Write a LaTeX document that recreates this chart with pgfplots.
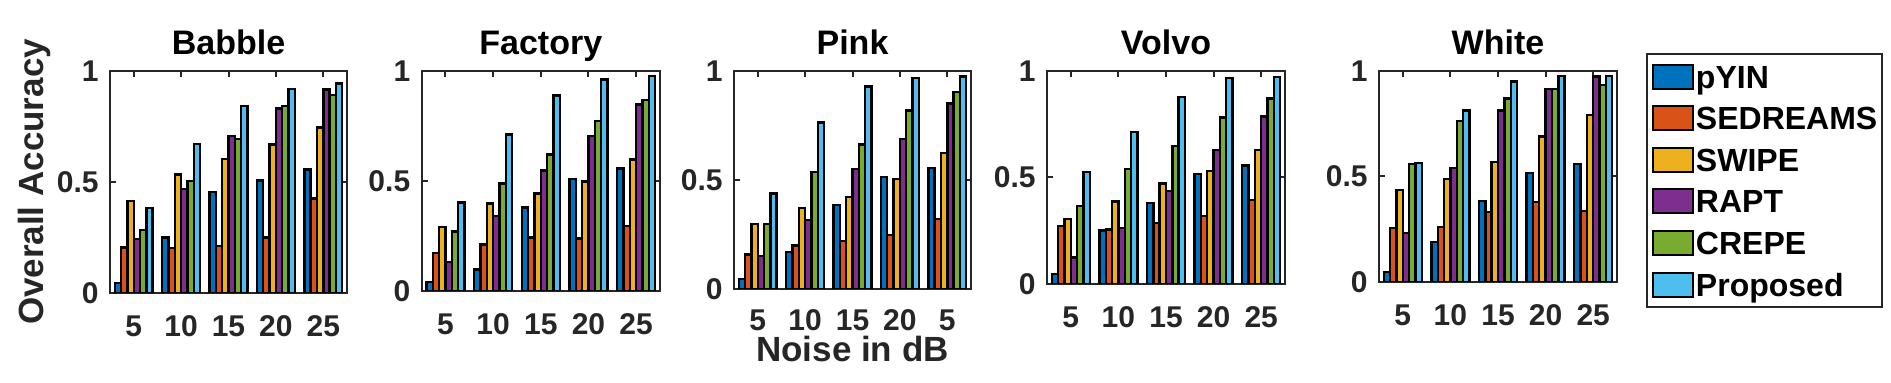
\documentclass[border=0pt]{standalone}
\usepackage{fontspec}
\setmainfont{Liberation Sans}
\usepackage{pgfplots}
\usepackage{pgfplotstable}
\pgfplotsset{compat=1.18}
\definecolor{axgray}{RGB}{38,38,38}
\definecolor{cA}{rgb}{0,0.447,0.741}
\definecolor{cB}{rgb}{0.850,0.325,0.098}
\definecolor{cC}{rgb}{0.929,0.694,0.125}
\definecolor{cD}{rgb}{0.494,0.184,0.556}
\definecolor{cE}{rgb}{0.466,0.674,0.188}
\definecolor{cF}{rgb}{0.301,0.745,0.933}

\pgfplotstableread{
g pyin sed swipe rapt crepe prop
1 0.045 0.205 0.415 0.244 0.285 0.384
2 0.250 0.202 0.534 0.469 0.505 0.672
3 0.456 0.213 0.604 0.708 0.693 0.843
4 0.507 0.250 0.669 0.831 0.843 0.919
5 0.556 0.426 0.745 0.916 0.892 0.943
}\babble
\pgfplotstableread{
g pyin sed swipe rapt crepe prop
1 0.042 0.174 0.292 0.132 0.270 0.403
2 0.098 0.212 0.397 0.342 0.489 0.711
3 0.380 0.244 0.444 0.547 0.620 0.888
4 0.508 0.239 0.497 0.705 0.774 0.962
5 0.556 0.295 0.598 0.847 0.867 0.977
}\factory
\pgfplotstableread{
g pyin sed swipe rapt crepe prop
1 0.047 0.159 0.297 0.150 0.297 0.438
2 0.170 0.200 0.372 0.317 0.538 0.763
3 0.386 0.219 0.423 0.551 0.663 0.928
4 0.515 0.247 0.504 0.689 0.818 0.969
5 0.556 0.320 0.625 0.850 0.904 0.974
}\pink
\pgfplotstableread{
g pyin sed swipe rapt crepe prop
1 0.047 0.273 0.306 0.125 0.367 0.527
2 0.252 0.255 0.388 0.264 0.541 0.714
3 0.381 0.286 0.472 0.437 0.648 0.878
4 0.517 0.320 0.531 0.630 0.781 0.967
5 0.556 0.395 0.630 0.786 0.870 0.972
}\volvo
\pgfplotstableread{
g pyin sed swipe rapt crepe prop
1 0.047 0.256 0.435 0.233 0.560 0.565
2 0.190 0.260 0.489 0.541 0.764 0.812
3 0.384 0.331 0.570 0.812 0.869 0.951
4 0.517 0.380 0.690 0.916 0.916 0.976
5 0.560 0.337 0.791 0.973 0.935 0.976
}\white

\pgfplotsset{
  mybar/.style={fill=#1, draw=black, line width=1.2pt,
    legend image code/.code={\draw[fill=#1, draw=black, line width=1pt] (0pt,-0.25pt) rectangle (20pt,11.75pt);}},
  panel/.style={
    scale only axis, anchor=south west,
    ybar=0pt, bar width=0.1333,
    xmin=0.5, xmax=5.5, ymin=0, ymax=1,
    xtick={1,2,3,4,5}, xticklabels={5,10,15,20,25},
    ytick={0,0.5,1}, yticklabels={0,0.5,1},
    tick align=inside, major tick length=3pt,
    axis line style={draw=axgray, line width=1pt},
    tick style={draw=axgray, line width=1pt},
    /pgf/number format/assume math mode=true,
    ticklabel style={font=\fontsize{15}{15}\selectfont\bfseries, text=axgray, inner sep=0pt},
    xticklabel style={anchor=north, yshift=-11pt},
    yticklabel style={anchor=east, xshift=-5.5pt},
    every axis title/.style={at={(0.5,1)}, anchor=base, yshift=8pt, inner sep=0pt,
      font=\fontsize{17}{17}\selectfont\bfseries, text=black},
  },
}
\newcommand{\bars}[1]{%
  \addplot[mybar=cA] table[x=g,y=pyin]{#1};
  \addplot[mybar=cB] table[x=g,y=sed]{#1};
  \addplot[mybar=cC] table[x=g,y=swipe]{#1};
  \addplot[mybar=cD] table[x=g,y=rapt]{#1};
  \addplot[mybar=cE] table[x=g,y=crepe]{#1};
  \addplot[mybar=cF] table[x=g,y=prop]{#1};
}

\begin{document}
\begin{tikzpicture}
\useasboundingbox (0,0) rectangle (945.5pt,191.5pt);

\begin{axis}[panel, at={(55pt,45pt)}, width=118.5pt, height=111pt, title={Babble},
  ylabel={Overall Accuracy},
  ylabel style={at={(rel axis cs:-0.2827,0.5)}, anchor=base, inner sep=0pt,
    font=\fontsize{17.5}{17.5}\selectfont\bfseries, text=axgray}]
\bars{\babble}
\end{axis}

\begin{axis}[panel, at={(210.8pt,46pt)}, width=119.2pt, height=110pt, title={Factory}]
\bars{\factory}
\end{axis}

\begin{axis}[panel, at={(367pt,47pt)}, width=118.5pt, height=109pt, title={Pink},
  xticklabels={5,10,15,20,5},
  xticklabel style={yshift=1pt},
  xlabel={Noise in dB},
  xlabel style={at={(rel axis cs:0.5,-0.332)}, anchor=base, inner sep=0pt,
    font=\fontsize{17.5}{17.5}\selectfont\bfseries, text=axgray}]
\bars{\pink}
\end{axis}

\begin{axis}[panel, at={(523.5pt,49.5pt)}, width=119pt, height=106.5pt, title={Volvo}]
\bars{\volvo}
\end{axis}

\begin{axis}[panel, at={(689.5pt,50.5pt)}, width=119pt, height=105.5pt, title={White},
  legend cell align=left,
  legend style={at={(1.1218,1.0853)}, anchor=north west, draw=axgray, line width=1pt, fill=white,
    font=\fontsize{16}{16}\selectfont\bfseries, inner xsep=2.5pt, inner ysep=4.8pt,
    row sep=7.8pt, column sep=1pt,
    nodes={inner sep=0pt, text depth=0pt},
    cells={anchor=base west}}]
\bars{\white}
\legend{pYIN,SEDREAMS,SWIPE,RAPT,CREPE,Proposed}
\end{axis}
\end{tikzpicture}
\end{document}
